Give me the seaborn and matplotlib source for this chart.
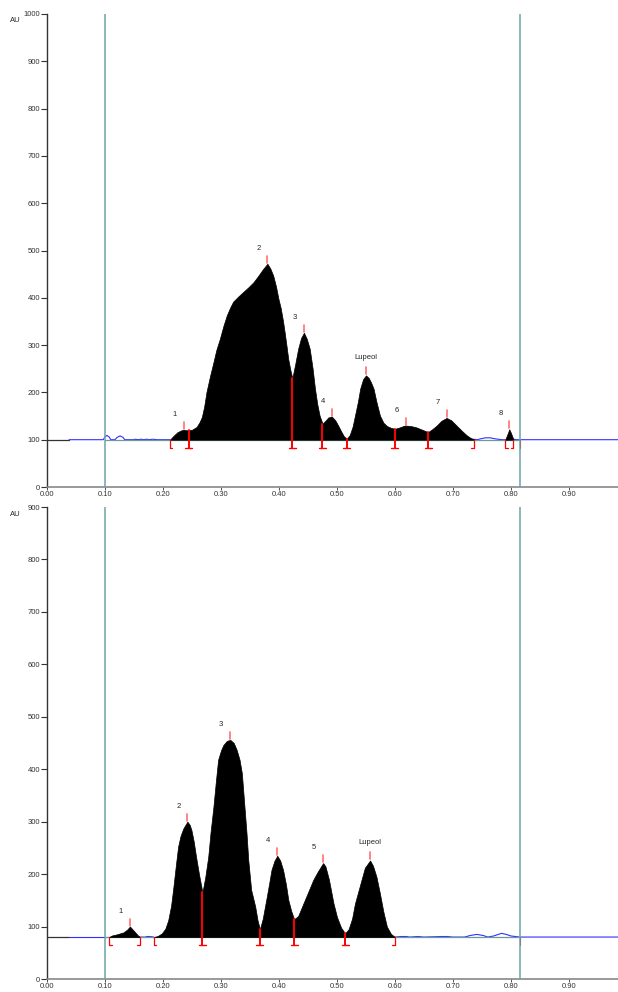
#! /usr/bin/env python3
# densitogram of two tracks, peaks filled black, with integration marks
import numpy as np
import matplotlib
matplotlib.use('Agg')
import matplotlib.pyplot as plt
import seaborn as sns

# ---- upper track (Rf, AU) ----
top_rf = [0.038, 0.097, 0.100, 0.103, 0.107, 0.110, 0.117, 0.121, 0.126, 0.131, 0.134,
          0.150, 0.152, 0.157, 0.162, 0.167, 0.172, 0.177, 0.182, 0.190, 0.200, 0.212,
          0.218, 0.225, 0.232, 0.236, 0.240, 0.244, 0.250, 0.258, 0.263, 0.267, 0.271,
          0.275, 0.281, 0.287, 0.292, 0.298, 0.304, 0.310, 0.316, 0.321, 0.330, 0.338,
          0.347, 0.356, 0.364, 0.372, 0.380, 0.385, 0.390, 0.395, 0.399, 0.403, 0.407,
          0.410, 0.413, 0.416, 0.420, 0.423, 0.428, 0.433, 0.438, 0.443, 0.448, 0.453,
          0.458, 0.462, 0.466, 0.470, 0.475, 0.480, 0.485, 0.491, 0.497, 0.502, 0.507,
          0.512, 0.517, 0.522, 0.527, 0.531, 0.536, 0.540, 0.545, 0.550, 0.555, 0.559,
          0.563, 0.568, 0.574, 0.580, 0.586, 0.593, 0.600, 0.608, 0.617, 0.627, 0.637,
          0.647, 0.657, 0.664, 0.672, 0.680, 0.689, 0.697, 0.706, 0.715, 0.724, 0.730,
          0.736, 0.742, 0.748, 0.756, 0.764, 0.772, 0.778, 0.784, 0.790, 0.794, 0.797,
          0.800, 0.804, 0.810, 0.815, 0.985]
top_au = [100, 100, 106, 109, 106, 100, 100, 105, 108, 105, 100,
          100, 101, 100, 101, 100, 101, 100, 101, 100, 100, 100,
          108, 116, 120, 121, 120, 120, 121, 127, 137, 148, 170,
          201, 234, 264, 290, 313, 340, 363, 380, 392, 403, 412,
          422, 433, 446, 460, 472, 462, 447, 423, 398, 378, 350,
          325, 298, 270, 245, 230, 260, 292, 315, 326, 313, 292,
          250, 208, 175, 151, 134, 140, 147, 149, 141, 130, 118,
          107, 102, 110, 128, 151, 180, 208, 228, 236, 230, 220,
          208, 180, 151, 136, 129, 125, 123, 126, 130, 129, 126,
          121, 116, 122, 130, 140, 146, 141, 130, 119, 109, 104,
          101, 100, 102, 104, 104, 102, 101, 100, 100, 112, 122,
          114, 101, 100, 100, 100]
top_base = 100
top_start = [0.212, 0.790]
top_end = [0.736, 0.804]
top_valley = [0.244, 0.423, 0.475, 0.517, 0.600, 0.657]
top_peak_rf = [0.236, 0.380, 0.443, 0.491, 0.550, 0.619, 0.689, 0.797]
top_peak_lab = ['1', '2', '3', '4', 'Lupeol', '6', '7', '8']

# ---- lower track (Rf, AU) ----
bot_rf = [0.038, 0.107, 0.112, 0.120, 0.126, 0.132, 0.138, 0.143, 0.148, 0.152, 0.156,
          0.160, 0.170, 0.172, 0.178, 0.184, 0.191, 0.198, 0.204, 0.209, 0.214, 0.218,
          0.222, 0.226, 0.230, 0.235, 0.242, 0.246, 0.249, 0.253, 0.257, 0.262, 0.268,
          0.273, 0.278, 0.282, 0.287, 0.291, 0.295, 0.300, 0.304, 0.310, 0.316, 0.322,
          0.327, 0.332, 0.336, 0.340, 0.344, 0.347, 0.352, 0.359, 0.363, 0.367, 0.372,
          0.379, 0.383, 0.387, 0.392, 0.397, 0.402, 0.407, 0.412, 0.416, 0.421, 0.426,
          0.433, 0.442, 0.450, 0.459, 0.467, 0.476, 0.480, 0.486, 0.494, 0.500, 0.507,
          0.514, 0.520, 0.526, 0.531, 0.540, 0.548, 0.557, 0.562, 0.568, 0.574, 0.580,
          0.586, 0.593, 0.600, 0.610, 0.620, 0.625, 0.640, 0.650, 0.680, 0.690, 0.700,
          0.720, 0.730, 0.741, 0.752, 0.760, 0.770, 0.778, 0.784, 0.792, 0.800, 0.815,
          0.985]
bot_au = [80, 80, 83, 85, 87, 89, 94, 100, 94, 89, 84,
          80, 80, 81, 81, 80, 82, 87, 96, 112, 140, 176,
          215, 252, 272, 287, 300, 294, 284, 262, 233, 200, 165,
          195, 233, 280, 329, 375, 418, 436, 446, 454, 456, 450,
          437, 418, 392, 335, 278, 227, 170, 138, 112, 95, 115,
          157, 182, 208, 225, 235, 226, 208, 180, 151, 130, 114,
          120, 144, 165, 189, 205, 221, 215, 190, 144, 118, 98,
          87, 95, 115, 144, 180, 212, 226, 216, 195, 163, 128,
          100, 86, 80, 81, 81, 80, 81, 80, 81, 81, 80,
          80, 83, 85, 83, 80, 82, 85, 87, 85, 82, 80,
          80]
bot_base = 80
bot_start = [0.107, 0.184]
bot_end = [0.160, 0.600]
bot_valley = [0.268, 0.367, 0.426, 0.514]
bot_peak_rf = [0.143, 0.242, 0.316, 0.397, 0.476, 0.557]
bot_peak_lab = ['1', '2', '3', '4', '5', 'Lupeol']

x_ticks = [0.0, 0.1, 0.2, 0.3, 0.4, 0.5, 0.6, 0.7, 0.8, 0.9]
track_lo, track_hi = 0.10, 0.815

# ---- figure ----
sns.set_style('ticks')
plt.rcParams['font.family'] = ['Liberation Sans', 'DejaVu Sans']
fig = plt.figure(figsize=(6.18, 9.92), dpi=100)
W, H = 618, 992


def draw_track(ax, rf, au, base, ymax, starts, ends, valleys, peak_rf, peak_lab):
    rf = np.asarray(rf, float)
    au = np.asarray(au, float)
    ax_h_px = ax.get_position().height * H
    ax_w_px = ax.get_position().width * W
    xmax = 0.9845
    upx = ymax / ax_h_px          # AU per pixel
    xpx = xmax / ax_w_px          # Rf per pixel

    # raw trace, only outside the integrated peaks
    ax.plot([0, rf[0]], [base, base], color='#333333', lw=0.9, zorder=2)
    inside = np.zeros(len(rf), bool)
    for s, e in zip(starts, ends):
        inside |= (rf > s + 1e-9) & (rf < e - 1e-9)
    seg = []
    for i in range(len(rf)):
        if not inside[i]:
            seg.append(i)
        if inside[i] or i == len(rf) - 1:
            if len(seg) > 1:
                sns.lineplot(x=rf[seg], y=au[seg], ax=ax, color='#3030ff', lw=0.8,
                             sort=False, estimator=None, zorder=2)
            seg = []
    # baseline inside the track
    ax.plot([track_lo, track_hi], [base, base], color='#6a9c9c', lw=0.9, zorder=3)

    # peaks filled black
    for s, e in zip(starts, ends):
        m = (rf >= s - 1e-9) & (rf <= e + 1e-9)
        ax.fill_between(rf[m], base, au[m], facecolor='black', edgecolor='black',
                        lw=0.5, zorder=4)

    red = '#ff0000'
    drop = 8 * upx
    cap = 3.5 * xpx
    for s in starts:
        ax.plot([s + 2.5 * xpx, s, s], [base - drop, base - drop, base],
                color=red, lw=0.9, zorder=5)
    for e in ends:
        ax.plot([e - 2.5 * xpx, e, e], [base - drop, base - drop, base],
                color=red, lw=0.9, zorder=5)
    for v in valleys:
        yv = np.interp(v, rf, au)
        ax.plot([v, v], [base - drop, yv], color=red, lw=1.4, zorder=5)
        ax.plot([v - cap, v + cap], [base - drop, base - drop], color=red, lw=1.0, zorder=5)
    # end-of-track tick
    ax.plot([track_hi, track_hi], [base - drop, base], color=red, lw=0.8, zorder=5)

    # peak maxima marks and labels
    for p, lab in zip(peak_rf, peak_lab):
        yp = np.interp(p, rf, au)
        ax.plot([p, p], [yp + 1 * upx, yp + 8 * upx], color='#ff7070', lw=1.2, zorder=5)
        if lab == 'Lupeol':
            ax.text(p, yp + 14 * upx, lab, fontsize=5.5, ha='center', va='bottom')
        else:
            ax.text(p - 9 * xpx, yp + 12 * upx, lab, fontsize=5.5, ha='center', va='bottom')

    # track limits
    for xv in (track_lo, track_hi):
        ax.axvline(xv, color='#6aa6a6', lw=1.1, zorder=6)

    ax.set_xlim(0, xmax)
    ax.set_ylim(0, ymax)
    ax.set_xticks(x_ticks)
    ax.set_xticklabels(['%.2f' % t for t in x_ticks])
    ax.set_yticks(np.arange(0, ymax + 1, 100))
    ax.set_yticklabels([str(int(t)) for t in np.arange(0, ymax + 1, 100)])
    ax.tick_params(axis='y', labelsize=5.5, length=4, width=0.8, pad=1, colors='#333333')
    ax.tick_params(axis='x', labelsize=5.5, length=2, width=0.6, pad=1, colors='#333333')
    for side in ('top', 'right'):
        ax.spines[side].set_visible(False)
    ax.spines['left'].set_color('#333333')
    ax.spines['bottom'].set_color('#888888')
    ax.spines['left'].set_linewidth(1.0)
    ax.spines['bottom'].set_linewidth(1.2)
    ax.set_xlabel('')
    ax.set_ylabel('')


left = 47 / W
width = (W - 47) / W
ax1 = fig.add_axes([left, 1 - 487 / H, width, 473 / H])
ax2 = fig.add_axes([left, 1 - 979 / H, width, 472 / H])

draw_track(ax1, top_rf, top_au, top_base, 1000, top_start, top_end, top_valley,
           top_peak_rf, top_peak_lab)
draw_track(ax2, bot_rf, bot_au, bot_base, 900, bot_start, bot_end, bot_valley,
           bot_peak_rf, bot_peak_lab)

fig.text(15 / W, 1 - 20 / H, 'AU', fontsize=5.5, ha='center', va='center')
fig.text(15 / W, 1 - 514 / H, 'AU', fontsize=5.5, ha='center', va='center')

fig.savefig('out.png', dpi=100)
